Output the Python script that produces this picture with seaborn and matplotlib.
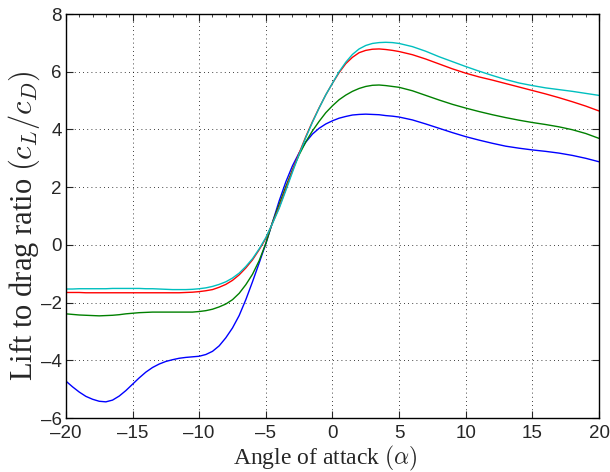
import numpy as np
import pandas as pd
import matplotlib
matplotlib.use("Agg")
import matplotlib.pyplot as plt
import seaborn as sns
from matplotlib.ticker import MultipleLocator

# ===========================
# Data
# ===========================

# -20 .. 5 in steps of 0.5, then 6 .. 20 in steps of 1
alpha = [-20, -19.5, -19, -18.5, -18, -17.5, -17, -16.5, -16, -15.5,
         -15, -14.5, -14, -13.5, -13, -12.5, -12, -11.5, -11, -10.5,
         -10, -9.5, -9, -8.5, -8, -7.5, -7, -6.5, -6, -5.5,
         -5, -4.5, -4, -3.5, -3, -2.5, -2, -1.5, -1, -0.5,
         0, 0.5, 1, 1.5, 2, 2.5, 3, 3.5, 4, 4.5,
         5, 6, 7, 8, 9, 10, 11, 12, 13, 14, 15, 16, 17, 18, 19, 20]

ld_blue = [-4.72, -4.92, -5.10, -5.25, -5.35, -5.42, -5.44, -5.38, -5.24, -5.05,
           -4.83, -4.61, -4.41, -4.25, -4.13, -4.04, -3.98, -3.93, -3.90, -3.88,
           -3.86, -3.80, -3.69, -3.50, -3.22, -2.88, -2.45, -1.90, -1.28, -0.63,
           0.04, 0.78, 1.52, 2.18, 2.74, 3.19, 3.56, 3.84, 4.04, 4.19,
           4.30, 4.39, 4.45, 4.50, 4.52, 4.53, 4.52, 4.51, 4.48, 4.46,
           4.43, 4.33, 4.19, 4.04, 3.89, 3.75, 3.63, 3.52, 3.42, 3.35, 3.29, 3.24, 3.18, 3.10, 3.00, 2.88]

ld_green = [-2.39, -2.41, -2.43, -2.44, -2.45, -2.46, -2.45, -2.44, -2.42, -2.39,
            -2.37, -2.35, -2.34, -2.33, -2.33, -2.33, -2.33, -2.33, -2.33, -2.33,
            -2.31, -2.28, -2.23, -2.15, -2.05, -1.90, -1.68, -1.38, -1.02, -0.55,
            0.05, 0.78, 1.40, 2.02, 2.60, 3.12, 3.57, 3.95, 4.28, 4.58,
            4.82, 5.03, 5.19, 5.32, 5.42, 5.49, 5.53, 5.54, 5.52, 5.49,
            5.46, 5.34, 5.18, 5.02, 4.87, 4.74, 4.62, 4.51, 4.41, 4.32, 4.24, 4.17, 4.09, 3.99, 3.86, 3.69]

ld_red = [-1.65, -1.65, -1.65, -1.66, -1.66, -1.66, -1.66, -1.66, -1.66, -1.66,
          -1.66, -1.66, -1.66, -1.66, -1.66, -1.66, -1.66, -1.66, -1.65, -1.64,
          -1.62, -1.59, -1.55, -1.47, -1.37, -1.23, -1.04, -0.80, -0.52, -0.17,
          0.22, 0.75, 1.30, 1.93, 2.57, 3.18, 3.75, 4.27, 4.75, 5.20,
          5.60, 5.97, 6.28, 6.50, 6.66, 6.74, 6.78, 6.79, 6.77, 6.74,
          6.70, 6.59, 6.44, 6.27, 6.10, 5.95, 5.82, 5.71, 5.59, 5.47, 5.35, 5.23, 5.10, 4.96, 4.81, 4.64]

ld_cyan = [-1.53, -1.53, -1.52, -1.52, -1.52, -1.52, -1.52, -1.51, -1.51, -1.51,
           -1.51, -1.51, -1.52, -1.52, -1.53, -1.54, -1.55, -1.55, -1.55, -1.54,
           -1.52, -1.49, -1.44, -1.37, -1.28, -1.15, -0.98, -0.75, -0.48, -0.14,
           0.25, 0.74, 1.26, 1.88, 2.52, 3.14, 3.72, 4.25, 4.74, 5.20,
           5.60, 6.00, 6.33, 6.60, 6.79, 6.91, 6.98, 7.01, 7.02, 7.01,
           6.98, 6.87, 6.71, 6.52, 6.35, 6.18, 6.02, 5.87, 5.73, 5.61, 5.52, 5.44, 5.38, 5.32, 5.25, 5.18]

series = ["blue", "green", "red", "cyan"]
colors = ["#0000ff", "#008000", "#ff0000", "#00bfbf"]

frames = []
for name, vals in zip(series, [ld_blue, ld_green, ld_red, ld_cyan]):
    frames.append(pd.DataFrame({"alpha": alpha, "ld": vals, "series": name}))
df = pd.concat(frames, ignore_index=True)

# ===========================
# Plot
# ===========================

sns.set_style("ticks")
plt.rcParams["font.family"] = ["Liberation Sans", "DejaVu Sans"]
plt.rcParams["mathtext.fontset"] = "cm"

fig = plt.figure(figsize=(6.1, 4.72), dpi=100)
ax = fig.add_axes([0.108, 0.1144, 0.874, 0.8559])

sns.lineplot(data=df, x="alpha", y="ld", hue="series",
             palette=dict(zip(series, colors)), linewidth=1.0,
             legend=False, ax=ax, sort=False)

xt = list(range(-20, 21, 5))
yt = list(range(-6, 9, 2))
ax.set_xlim(-20, 20)
ax.set_ylim(-6, 8)
ax.set_xticks(xt)
ax.set_yticks(yt)
ax.set_xticklabels([("\u2013" + str(-t)) if t < 0 else str(t) for t in xt])
ax.set_yticklabels([("\u2013" + str(-t)) if t < 0 else str(t) for t in yt])

ax.grid(True, color="black", linestyle=(0, (1, 4)), linewidth=0.6)
for s in ax.spines.values():
    s.set_linewidth(1.0)
    s.set_color("black")

ax.tick_params(direction="in", length=5, width=0.8, top=True, right=True,
               labelsize=13.5)
ax.tick_params(axis="x", pad=5)
ax.tick_params(axis="y", pad=3)
ax.xaxis.set_minor_locator(MultipleLocator(1))
ax.tick_params(which="minor", direction="in", length=2, width=0.6,
               top=True, bottom=False)

serif = ["Liberation Serif", "DejaVu Serif"]
ax.set_xlabel(r"Angle of attack $(\alpha)$", fontsize=17, family=serif)
ax.set_ylabel(r"Lift to drag ratio $(c_L/c_D)$", fontsize=22, family=serif)
ax.xaxis.set_label_coords(0.486, -0.063)
ax.yaxis.set_label_coords(-0.045, 0.475)

plt.savefig("out.png", dpi=100)
plt.close()
